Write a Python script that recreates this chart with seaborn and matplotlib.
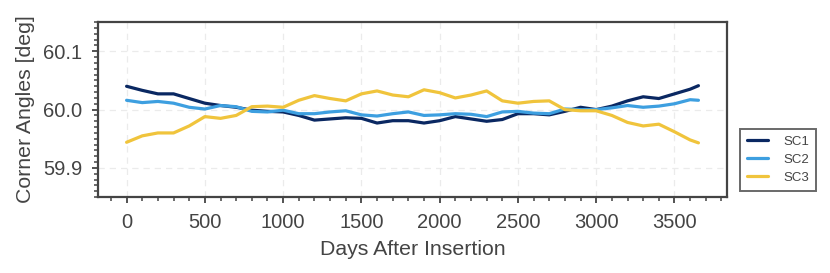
import numpy as np
import pandas as pd
import matplotlib
matplotlib.use("Agg")
import matplotlib.pyplot as plt
import seaborn as sns
from matplotlib.ticker import MultipleLocator

# days after insertion (common grid for all spacecraft)
days = [0, 100, 200, 300, 400, 500, 600, 700, 800, 900, 1000, 1100, 1200,
        1300, 1400, 1500, 1600, 1700, 1800, 1900, 2000, 2100, 2200, 2300,
        2400, 2500, 2600, 2700, 2800, 2900, 3000, 3100, 3200, 3300, 3400,
        3500, 3600, 3653]

sc1 = [60.040, 60.033, 60.027, 60.027, 60.019, 60.011, 60.007, 60.004, 59.999,
       59.997, 59.996, 59.990, 59.982, 59.984, 59.986, 59.985, 59.977, 59.981,
       59.981, 59.977, 59.981, 59.988, 59.984, 59.980, 59.983, 59.993, 59.993,
       59.991, 59.997, 60.004, 60.000, 60.006, 60.015, 60.022, 60.019, 60.027,
       60.035, 60.041]
sc2 = [60.016, 60.012, 60.014, 60.011, 60.004, 60.001, 60.007, 60.005, 59.997,
       59.996, 59.999, 59.993, 59.993, 59.996, 59.998, 59.991, 59.989, 59.993,
       59.996, 59.990, 59.991, 59.993, 59.992, 59.988, 59.996, 59.997, 59.994,
       59.993, 60.001, 60.000, 60.000, 60.003, 60.007, 60.004, 60.006, 60.010,
       60.017, 60.016]
sc3 = [59.944, 59.955, 59.960, 59.960, 59.972, 59.988, 59.985, 59.990, 60.005,
       60.006, 60.004, 60.016, 60.024, 60.019, 60.015, 60.027, 60.032, 60.025,
       60.022, 60.034, 60.029, 60.020, 60.025, 60.032, 60.015, 60.011, 60.014,
       60.015, 60.000, 59.998, 59.998, 59.990, 59.978, 59.972, 59.975, 59.962,
       59.948, 59.943]

labels = ["SC1", "SC2", "SC3"]
colors = ["#0a2862", "#3d9fe0", "#f0c43c"]

df = pd.concat([
    pd.DataFrame({"day": days, "angle": sc1, "sc": "SC1"}),
    pd.DataFrame({"day": days, "angle": sc2, "sc": "SC2"}),
    pd.DataFrame({"day": days, "angle": sc3, "sc": "SC3"}),
])

sns.set_style("ticks")
plt.rcParams['font.family'] = ['Liberation Sans', 'DejaVu Sans']

fig = plt.figure(figsize=(8.3, 2.73), dpi=100)
ax = fig.add_axes([0.118, 0.278, 0.758, 0.641])

sns.lineplot(data=df, x="day", y="angle", hue="sc", hue_order=labels,
             palette=colors, linewidth=2.3, ax=ax, legend=True)

ax.set_ylim(59.85, 60.15)
ax.set_xlim(-183, 3836)
ax.xaxis.set_major_locator(MultipleLocator(500))
ax.xaxis.set_minor_locator(MultipleLocator(100))
ax.yaxis.set_minor_locator(MultipleLocator(0.01))
ax.set_yticks([59.9, 60.0, 60.1])
ax.set_yticklabels(["59.9", "60.0", "60.1"])

ax.grid(True, which="major", linestyle=(0, (5, 4)), color="#ebebeb", linewidth=0.9)
ax.set_axisbelow(True)

for s in ax.spines.values():
    s.set_color("#444444")
    s.set_linewidth(1.6)
ax.tick_params(which="major", direction="out", length=4.3, width=1.3, pad=7,
               colors="#444444", labelsize=14.5, labelcolor="#444444")
ax.tick_params(which="minor", direction="out", length=2.6, width=1.1,
               colors="#444444")

ax.set_xlabel("Days After Insertion", fontsize=15.3, color="#444444", labelpad=6)
ax.set_ylabel("Corner Angles [deg]", fontsize=15.3, color="#444444", labelpad=6)

leg = ax.legend(loc="lower left", bbox_to_anchor=(1.01, 0.0), fontsize=9.5,
                frameon=True, fancybox=False, borderpad=0.5,
                handlelength=1.6, handletextpad=1.2, labelspacing=0.45)
leg.get_frame().set_edgecolor("#444444")
leg.get_frame().set_linewidth(1.4)
for t in leg.get_texts():
    t.set_color("#444444")

fig.savefig("out.png", dpi=100)
